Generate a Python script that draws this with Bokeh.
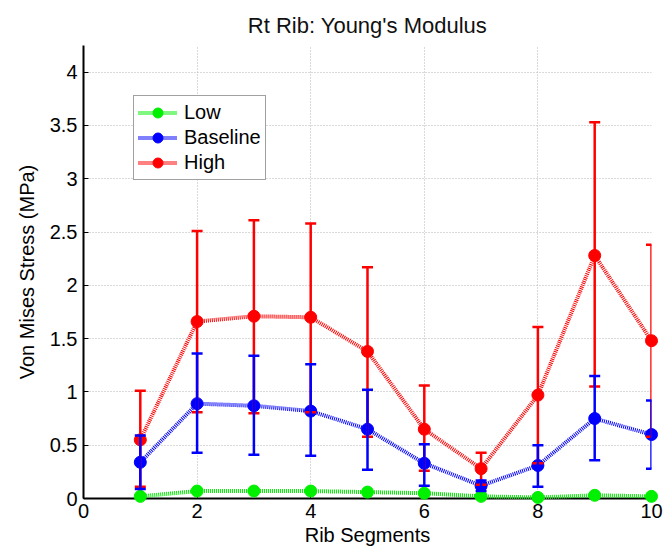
from bokeh.plotting import figure
from bokeh.models import (ColumnDataSource, Whisker, TeeHead, Legend, LegendItem,
                          FixedTicker, Range1d, Title)
from bokeh.embed import file_html
from bokeh.resources import INLINE

# ---------------- data ----------------
segments = [1, 2, 3, 4, 5, 6, 7, 8, 9, 10]

low_mean = [0.02, 0.07, 0.07, 0.07, 0.06, 0.05, 0.02, 0.01, 0.03, 0.02]
low_upper = [0.03, 0.08, 0.08, 0.08, 0.07, 0.06, 0.03, 0.02, 0.04, 0.03]
low_lower = [0.01, 0.06, 0.06, 0.06, 0.05, 0.04, 0.01, 0.00, 0.02, 0.01]

base_mean = [0.34, 0.89, 0.87, 0.82, 0.65, 0.33, 0.12, 0.31, 0.75, 0.60]
base_upper = [0.59, 1.36, 1.34, 1.26, 1.02, 0.51, 0.17, 0.50, 1.15, 0.92]
base_lower = [0.09, 0.43, 0.41, 0.40, 0.27, 0.12, 0.07, 0.11, 0.36, 0.28]

high_mean = [0.55, 1.66, 1.71, 1.70, 1.38, 0.65, 0.28, 0.97, 2.28, 1.48]
high_upper = [1.01, 2.51, 2.61, 2.58, 2.17, 1.06, 0.43, 1.61, 3.53, 2.38]
high_lower = [0.11, 0.81, 0.80, 0.81, 0.58, 0.26, 0.13, 0.33, 1.05, 0.58]

series_names = ["Low", "Baseline", "High"]
series_colors = ["#00f000", "#0000ff", "#ff0000"]

x_ticks = [0, 2, 4, 6, 8, 10]
x_tick_labels = ["0", "2", "4", "6", "8", "10"]
y_ticks = [0, 0.5, 1, 1.5, 2, 2.5, 3, 3.5, 4]
y_tick_labels = ["0", "0.5", "1", "1.5", "2", "2.5", "3", "3.5", "4"]

title_text = "Rt Rib: Young's Modulus"
x_label = "Rib Segments"
y_label = "Von Mises Stress (MPa)"

FONT = "Liberation Sans"

# ---------------- figure ----------------
p = figure(width=664, height=556, output_backend="svg", toolbar_location=None,
           x_range=Range1d(0, 10), y_range=Range1d(0, 4.25),
           min_border_left=83, min_border_right=13, min_border_top=45,
           min_border_bottom=58)
p.title = Title(text=title_text, align="center", text_font=FONT,
                text_font_size="22px", text_font_style="normal",
                text_color="#111111", standoff=15)
p.outline_line_color = None
p.background_fill_color = "white"
p.border_fill_color = "white"

for ax in (p.xaxis[0], p.yaxis[0]):
    ax.axis_line_color = "black"
    ax.axis_line_width = 2
    ax.major_tick_in = 5
    ax.major_tick_out = 0
    ax.major_tick_line_color = "black"
    ax.minor_tick_line_color = None
    ax.major_label_text_font = FONT
    ax.major_label_text_font_size = "20px"
    ax.major_label_text_color = "black"
    ax.axis_label_text_font = FONT
    ax.axis_label_text_font_size = "20px"
    ax.axis_label_text_font_style = "normal"
    ax.axis_label_text_color = "black"

p.xaxis[0].ticker = FixedTicker(ticks=x_ticks)
p.xaxis[0].major_label_overrides = {float(t): s for t, s in zip(x_ticks, x_tick_labels)}
p.yaxis[0].ticker = FixedTicker(ticks=y_ticks)
p.yaxis[0].major_label_overrides = {float(t): s for t, s in zip(y_ticks, y_tick_labels)}
p.xaxis[0].axis_label = x_label
p.yaxis[0].axis_label = y_label
p.xaxis[0].major_label_standoff = 5
p.xaxis[0].axis_label_standoff = 3
p.yaxis[0].major_label_standoff = 6
p.yaxis[0].axis_label_standoff = 9

for g in (p.xgrid[0], p.ygrid[0]):
    g.grid_line_color = "#b4b4b4"
    g.grid_line_dash = "1 2"
    g.grid_line_width = 1

# ---------------- series ----------------
series_data = [
    (low_mean, low_upper, low_lower),
    (base_mean, base_upper, base_lower),
    (high_mean, high_upper, high_lower),
]

items = {}
# draw High first, then Baseline, then Low (Low on top)
for idx in [2, 1, 0]:
    name = series_names[idx]
    color = series_colors[idx]
    mean, upper, lower = series_data[idx]
    src = ColumnDataSource(dict(x=segments, y=mean, upper=upper, lower=lower))
    lr = p.line("x", "y", source=src, line_color=color, line_width=4,
                line_dash="1 1", line_alpha=1.0, level="overlay")
    w = Whisker(base="x", upper="upper", lower="lower", source=src,
                line_color=color, line_width=2.5, level="overlay",
                upper_head=TeeHead(size=11, line_color=color, line_width=2.5),
                lower_head=TeeHead(size=11, line_color=color, line_width=2.5))
    p.add_layout(w)
    sr = p.scatter("x", "y", source=src, size=12, marker="circle",
                   fill_color=color, line_color=color, level="overlay")
    items[name] = LegendItem(label=name, renderers=[lr, sr])

legend = Legend(items=[items[n] for n in series_names], location="top_left",
                margin=50, padding=4, spacing=0, glyph_width=39, glyph_height=25,
                label_height=25, label_standoff=7, label_text_font=FONT,
                label_text_font_size="20px", label_text_color="black",
                border_line_color="#444444", border_line_width=1,
                background_fill_color="white", background_fill_alpha=1.0)
p.add_layout(legend)

open("out.html", "w").write(file_html(p, INLINE))
